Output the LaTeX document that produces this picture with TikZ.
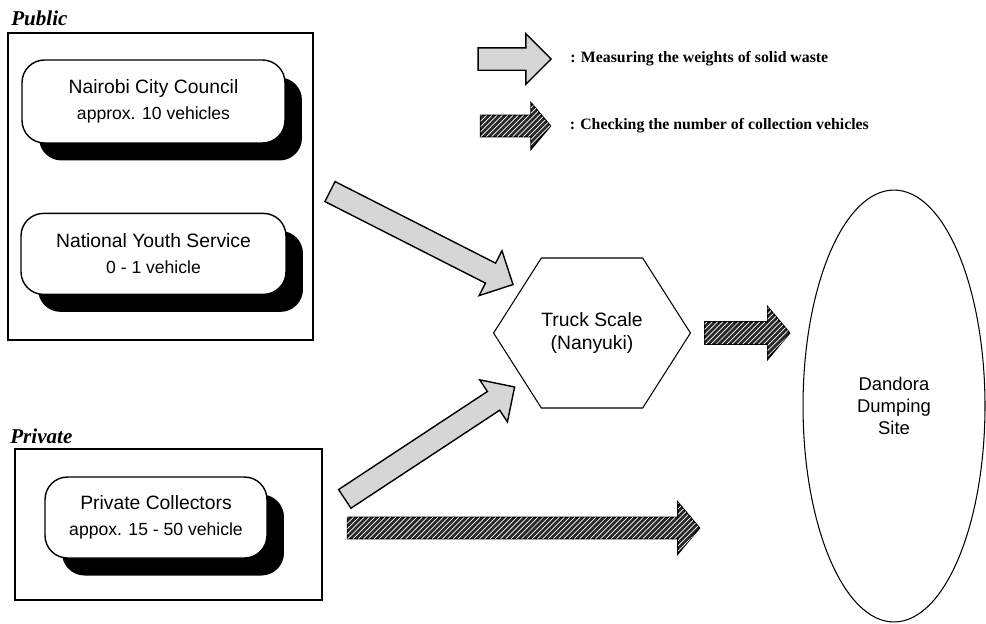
\documentclass[tikz,border=0pt]{standalone}
\usepackage{fontspec}
\setmainfont{Liberation Serif}
\setsansfont{Liberation Sans}
\usetikzlibrary{shadows, positioning, shapes, calc, patterns}
\definecolor{my_lightgray}{RGB}{214, 214, 214}
\definecolor{my_darkgray}{RGB}{40, 40, 40}
\newcommand{\detail}[1]{{\fontsize{10}{12}\selectfont #1}}
\tikzset {
  groupbox/.style = {draw, thick, rectangle, inner sep=0},
  model/.style = {draw, thick, fill=white, rectangle, rounded corners=0.45cm, align=center, inner sep=0,
                  font=\sffamily\fontsize{11}{15}\selectfont,
                  drop shadow={shadow xshift=0.34cm, shadow yshift=-0.35cm, fill=black, opacity=1}},
  station/.style = {draw, semithick, signal, signal to=east and west, signal pointer angle=115, align=center,
                    inner sep=0, font=\sffamily\fontsize{11}{13}\selectfont},
  site/.style = {draw, semithick, ellipse, align=center, inner sep=0, font=\sffamily\fontsize{10.5}{12.5}\selectfont},
  heading/.style = {anchor=base west, inner sep=0, font=\rmfamily\bfseries\itshape\fontsize{12}{14}\selectfont},
  keytext/.style = {anchor=west, inner sep=0, font=\rmfamily\bfseries\fontsize{9}{11}\selectfont},
  lightarrow/.style = {draw, thick, single arrow, inner xsep=0, inner ysep=0.21cm, fill=my_lightgray,
                       single arrow head extend=0.28cm},
  darkarrow/.style = {draw, thick, single arrow, inner xsep=0, inner ysep=0.21cm, fill=my_darkgray,
                      single arrow tip angle=100, single arrow head extend=0.3cm,
                      postaction={pattern=north east lines, pattern color=white}}
}

\begin{document}
\begin{tikzpicture}[x=0.02cm, y=-0.02cm]
  \useasboundingbox (0,0) rectangle (986,623);

  % public sector
  \node[heading] (publab) at (11,25) {Public};
  \node[groupbox, minimum width=6.1cm, minimum height=6.14cm] (public) at (160.5,186.5) {};
  \node[model, minimum width=5.26cm, minimum height=1.66cm] (nairobi) at (153.5,101.5) {Nairobi City Council\\\detail{approx. 10 vehicles}};
  \node[model, minimum width=5.3cm, minimum height=1.62cm, below=1.38cm of nairobi] (nys) {National Youth Service\\\detail{0 - 1 vehicle}};

  % private sector
  \node[heading] (privlab) at (10,443) {Private};
  \node[groupbox, minimum width=6.14cm, minimum height=3.02cm] (private) at (168.5,524.5) {};
  \node[model, minimum width=4.44cm, minimum height=1.62cm] (collectors) at (156,517.5) {Private Collectors\\\detail{appox. 15 - 50 vehicle}};

  % scale and dumping site
  \node[station, minimum width=3.8cm, minimum height=3cm] (scale) at (592,333) {Truck Scale\\(Nanyuki)};
  \node[site, minimum width=3.64cm, minimum height=8.64cm] (dandora) at (894,406) {Dandora\\Dumping\\Site};

  % key
  \node[lightarrow, minimum height=1.46cm] (keylight) at (509,59) {};
  \node[keytext, right=0.36cm of keylight] (keyweigh) {: Measuring the weights of solid waste};
  \node[darkarrow, inner ysep=0.2cm, single arrow head extend=0.25cm, minimum height=1.4cm] (keydark) at (511,126) {};
  \node[keytext, right=0.36cm of keydark] (keycount) {: Checking the number of collection vehicles};

  % flows
  \coordinate (pubout) at (325,189);
  \coordinate (scalein1) at (508,282);
  \coordinate (privout) at (340,502);
  \coordinate (scalein2) at (510,390);
  \coordinate (scaleout) at (700,333);
  \coordinate (sitein1) at (785,333);
  \coordinate (privout2) at (343,528);
  \coordinate (sitein2) at (695,528);

  \path let \p1=($(scalein1)-(pubout)$), \n1={veclen(\x1,\y1)} in
    (pubout) -- (scalein1) node[midway, sloped, allow upside down, lightarrow, minimum height=\n1] {};
  \path let \p1=($(scalein2)-(privout)$), \n1={veclen(\x1,\y1)} in
    (privout) -- (scalein2) node[midway, sloped, allow upside down, lightarrow, minimum height=\n1] {};
  \path let \p1=($(sitein1)-(scaleout)$), \n1={veclen(\x1,\y1)} in
    (scaleout) -- (sitein1) node[midway, sloped, allow upside down, darkarrow, minimum height=\n1] {};
  \path let \p1=($(sitein2)-(privout2)$), \n1={veclen(\x1,\y1)} in
    (privout2) -- (sitein2) node[midway, sloped, allow upside down, darkarrow, inner ysep=0.2cm, minimum height=\n1] {};

\end{tikzpicture}
\end{document}
